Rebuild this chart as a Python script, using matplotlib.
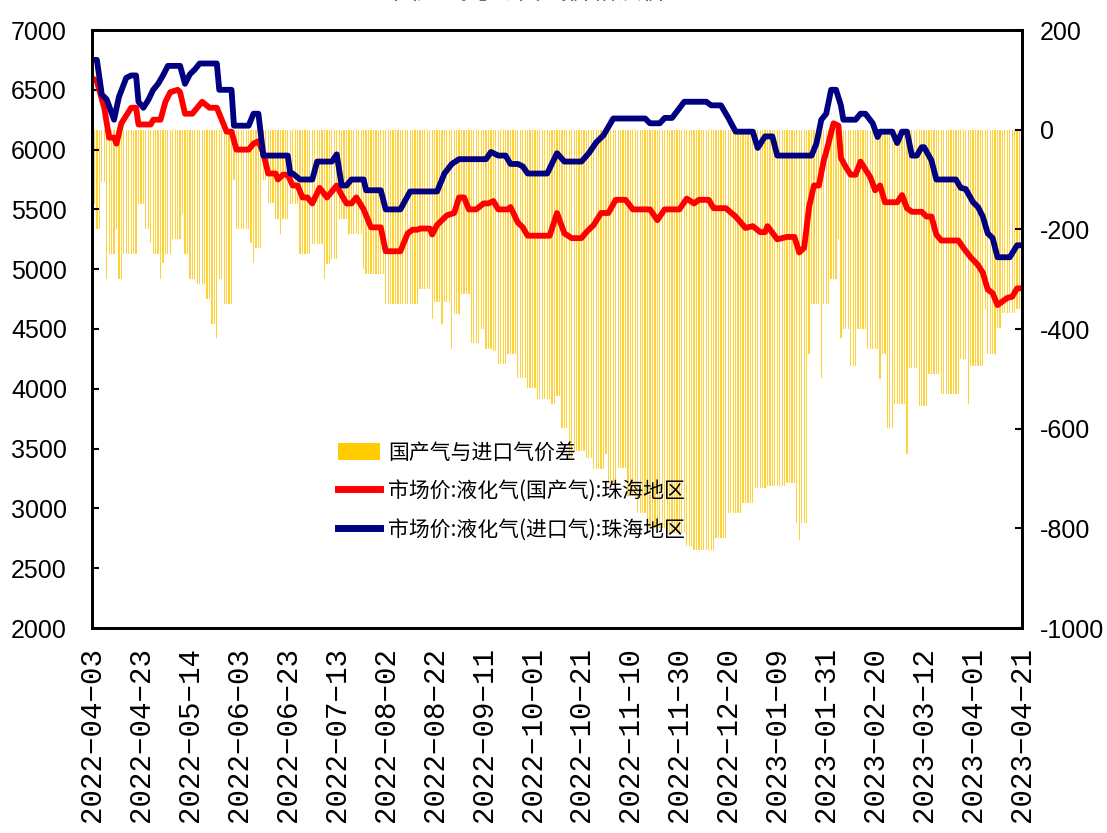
import numpy as np
import matplotlib.pyplot as plt
from matplotlib.patches import Patch
from matplotlib.lines import Line2D

plt.rcParams['font.family'] = ['Liberation Sans', 'Noto Sans CJK SC', 'DejaVu Sans']
plt.rcParams['axes.unicode_minus'] = False

# category axis: one slot per reported day, a label every 20 days
n_days = 381
tick_dates = ['2022-04-03', '2022-04-23', '2022-05-14', '2022-06-03', '2022-06-23',
              '2022-07-13', '2022-08-02', '2022-08-22', '2022-09-11', '2022-10-01',
              '2022-10-21', '2022-11-10', '2022-11-30', '2022-12-20', '2023-01-09',
              '2023-01-31', '2023-02-20', '2023-03-12', '2023-04-01', '2023-04-21']

# price gap (right axis), as runs: day where a level starts, level value
gap_start = [0, 2, 4, 6, 7, 10, 11, 13, 19, 22, 24, 25, 28, 29, 30, 33, 37, 38, 40, 43,
             47, 49, 51, 52, 54, 58, 59, 65, 66, 67, 70, 72, 75, 77, 78, 81, 85, 90, 95, 96,
             98, 101, 105, 111, 112, 120, 134, 139, 140, 143, 144, 147, 148, 151, 155, 159,
             161, 164, 166, 170, 174, 178, 182, 188, 190, 192, 195, 197, 202, 205, 210, 211,
             215, 219, 223, 227, 235, 243, 246, 255, 260, 266, 271, 276, 284, 288, 289, 290,
             293, 294, 298, 299, 302, 305, 306, 307, 310, 313, 317, 322, 323, 325, 328, 333,
             334, 338, 342, 347, 355, 358, 359, 365, 366, 370, 372, 378]
gap_value = [-150, -200, -105, -300, -250, -200, -300, -250, -150, -200, -228, -250, -300,
             -267, -250, -220, -170, -250, -300, -310, -340, -390, -418, -300, -350, -100,
             -200, -228, -267, -238, -100, -148, -180, -210, -180, -150, -250, -230, -300,
             -270, -260, -180, -210, -280, -290, -350, -320, -380, -345, -390, -345, -440,
             -370, -330, -428, -400, -440, -445, -470, -450, -498, -518, -540, -550, -535,
             -598, -658, -645, -658, -680, -650, -710, -678, -735, -770, -800, -810, -835,
             -844, -820, -770, -750, -720, -715, -710, -790, -824, -790, -450, -350, -498,
             -350, -300, -220, -418, -400, -475, -400, -440, -500, -450, -598, -550, -650,
             -478, -555, -490, -530, -460, -550, -475, -360, -450, -398, -368, -360]

# domestic LPG market price, Zhuhai (left axis)
dom_day = [0, 2, 5, 7, 9, 10, 12, 16, 18, 19, 24, 25, 28, 30, 32, 35, 36, 38, 41, 43, 45,
           48, 51, 53, 55, 57, 59, 64, 66, 68, 70, 72, 75, 76, 78, 80, 82, 84, 86, 88, 90,
           93, 96, 98, 100, 102, 104, 106, 108, 111, 114, 118, 120, 126, 129, 131, 133, 134,
           138, 139, 141, 145, 148, 150, 152, 154, 157, 160, 162, 164, 166, 170, 171, 174,
           176, 178, 187, 190, 193, 196, 200, 202, 205, 208, 211, 214, 218, 221, 228, 231,
           234, 240, 243, 246, 248, 252, 254, 259, 263, 267, 270, 273, 275, 276, 280, 284,
           287, 289, 291, 293, 295, 297, 299, 300, 303, 305, 306, 308, 310, 312, 314, 318,
           320, 322, 324, 329, 331, 333, 335, 339, 341, 343, 345, 347, 354, 356, 359, 362,
           364, 366, 368, 370, 372, 374, 376, 378, 380]
dom_price = [6600, 6570, 6350, 6100, 6100, 6050, 6220, 6350, 6350, 6210, 6210, 6250, 6250,
             6400, 6480, 6500, 6480, 6300, 6300, 6350, 6400, 6350, 6350, 6250, 6150, 6150,
             6000, 6000, 6050, 6070, 5970, 5800, 5800, 5750, 5790, 5790, 5700, 5700, 5600,
             5600, 5550, 5680, 5600, 5650, 5700, 5620, 5550, 5550, 5600, 5500, 5350, 5350,
             5150, 5150, 5300, 5330, 5330, 5340, 5340, 5290, 5370, 5450, 5470, 5600, 5600,
             5500, 5500, 5550, 5550, 5570, 5500, 5500, 5520, 5390, 5350, 5280, 5280, 5470,
             5300, 5260, 5260, 5310, 5370, 5470, 5470, 5580, 5580, 5500, 5500, 5410, 5500,
             5500, 5590, 5550, 5580, 5580, 5510, 5510, 5440, 5345, 5360, 5310, 5310, 5360,
             5250, 5270, 5270, 5140, 5180, 5520, 5700, 5700, 5910, 5980, 6220, 6200, 5930,
             5855, 5790, 5790, 5900, 5770, 5660, 5700, 5560, 5560, 5620, 5510, 5480, 5480,
             5440, 5440, 5290, 5240, 5240, 5180, 5100, 5035, 4970, 4830, 4800, 4700, 4730,
             4760, 4770, 4840, 4840]

# imported LPG market price, Zhuhai (left axis)
imp_day = [0, 2, 4, 6, 9, 11, 14, 16, 18, 19, 21, 23, 25, 27, 29, 31, 36, 38, 40, 42, 44,
           51, 52, 57, 58, 64, 66, 68, 70, 80, 81, 82, 85, 90, 92, 98, 100, 102, 104, 106,
           111, 112, 118, 120, 126, 130, 141, 144, 147, 150, 161, 163, 166, 169, 171, 174,
           176, 178, 186, 190, 193, 200, 203, 206, 209, 213, 226, 228, 232, 234, 237, 242,
           251, 253, 257, 260, 263, 270, 272, 275, 278, 280, 294, 296, 298, 300, 302, 304,
           306, 307, 312, 314, 316, 319, 321, 322, 327, 329, 331, 333, 335, 337, 339, 340,
           343, 345, 353, 355, 357, 360, 362, 364, 366, 368, 370, 375, 378, 380]
imp_price = [6750, 6750, 6460, 6420, 6250, 6440, 6600, 6620, 6620, 6400, 6350, 6415, 6500,
             6550, 6620, 6700, 6700, 6550, 6630, 6670, 6720, 6720, 6500, 6500, 6200, 6200,
             6300, 6300, 5950, 5950, 5800, 5800, 5750, 5750, 5900, 5900, 5960, 5700, 5700,
             5750, 5750, 5660, 5660, 5500, 5500, 5650, 5650, 5800, 5880, 5920, 5920, 5980,
             5950, 5950, 5880, 5880, 5860, 5800, 5800, 5970, 5900, 5900, 5970, 6060, 6120,
             6260, 6260, 6220, 6220, 6265, 6265, 6400, 6400, 6370, 6370, 6265, 6150, 6150,
             6014, 6110, 6110, 5950, 5950, 6050, 6250, 6300, 6500, 6500, 6370, 6250, 6250,
             6300, 6300, 6220, 6105, 6150, 6150, 6055, 6150, 6150, 5950, 5950, 6020, 6020,
             5910, 5750, 5750, 5680, 5670, 5560, 5520, 5440, 5300, 5260, 5100, 5100, 5200,
             5200]

days = np.arange(n_days)
gap = np.repeat(gap_value, np.diff(gap_start + [n_days]))

fig = plt.figure(figsize=(11.07, 8.33), dpi=100)
ax = fig.add_axes([92 / 1107, 1 - 628 / 833, 930 / 1107, 598 / 833])
ax2 = ax.twinx()

# thin daily bars with white gaps between them
ax2.bar(days, gap, width=0.5, color='#FFD23A', edgecolor='none')
ax2.set_ylim(-1000, 200)
ax2.set_yticks(range(-1000, 201, 200))

ax.set_zorder(ax2.get_zorder() + 1)
ax.patch.set_visible(False)
ax.plot(dom_day, dom_price, color='#FF0000', lw=4.2, solid_joinstyle='round', solid_capstyle='round')
ax.plot(imp_day, imp_price, color='#000080', lw=4.2, solid_joinstyle='round', solid_capstyle='round')
ax.set_ylim(2000, 7000)
ax.set_yticks(range(2000, 7001, 500))
ax.set_xlim(0, n_days - 1)
ax.set_xticks(np.arange(0, n_days, 20))
ax.set_xticklabels([d.replace('-', '\u2212') for d in tick_dates], rotation=90,
                   family='Liberation Mono', fontsize=21)
ax.tick_params(axis='x', length=0, pad=14)
ax.tick_params(axis='y', direction='in', length=5, width=1.5, labelsize=18, pad=18)
ax2.tick_params(axis='y', direction='in', length=5, width=1.5, labelsize=18, pad=13)

for a in (ax, ax2):
    for s in a.spines.values():
        s.set_linewidth(2)
        s.set_color('black')

handles = [Patch(facecolor='#FFCC00', edgecolor='none'),
           Line2D([], [], color='#FF0000', lw=5),
           Line2D([], [], color='#000080', lw=5)]
labels = ['国产气与进口气价差', '市场价:液化气(国产气):珠海地区', '市场价:液化气(进口气):珠海地区']
fig.legend(handles, labels, loc='upper left', bbox_to_anchor=(338 / 1107, 1 - 442 / 833),
           frameon=False, prop={'family': ['Noto Sans CJK SC'], 'size': 15},
           handlelength=2.0, handleheight=0.9, handletextpad=0.4, labelspacing=0.78,
           borderpad=0, borderaxespad=0)

fig.text(0.49, 1 - 5 / 833, '国产气与进口气价格及价差', ha='center', va='bottom',
         fontsize=18, color='#666666', family=['Noto Sans CJK SC'])

fig.savefig('out.png', dpi=100)
